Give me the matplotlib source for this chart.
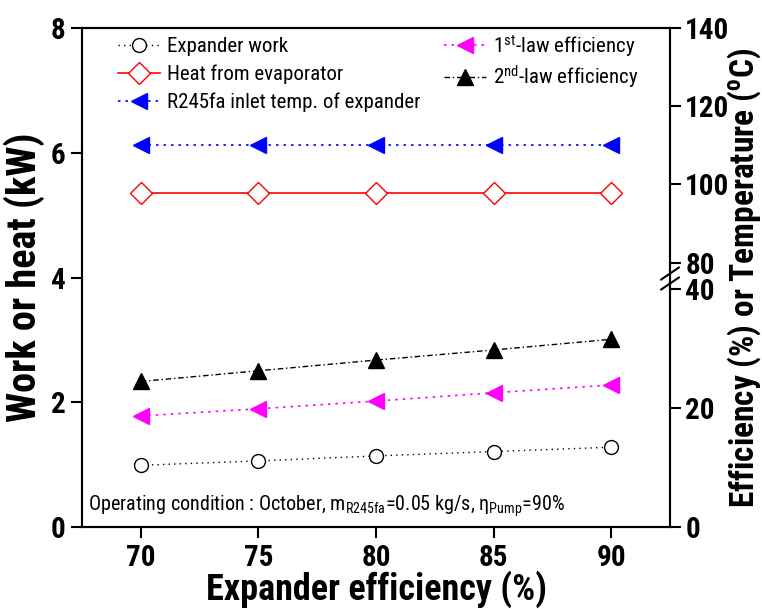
import matplotlib
matplotlib.use("Agg")
import matplotlib.pyplot as plt
from matplotlib import font_manager as fm
import numpy as np

# pick a narrow Arial-like family if available
_avail = {}
for f in fm.fontManager.ttflist:
    _avail.setdefault(f.name, set()).add(f.weight)
FONT = 'Liberation Sans'
for cand in ['Liberation Sans Narrow', 'Arial Narrow', 'Roboto Condensed', 'PT Sans Narrow',
             'Open Sans Condensed', 'Archivo Narrow', 'Barlow Semi Condensed']:
    if cand in _avail:
        FONT = cand
        break

plt.rcParams['font.family'] = [FONT, 'Liberation Sans', 'DejaVu Sans']
plt.rcParams['mathtext.fontset'] = 'custom'
plt.rcParams['mathtext.rm'] = FONT
plt.rcParams['mathtext.it'] = FONT
plt.rcParams['mathtext.bf'] = FONT + ':bold'

# Data
exp_eff = [70, 75, 80, 85, 90]
expander_work = [0.99, 1.06, 1.14, 1.21, 1.28]       # kW
heat_evap = [5.36, 5.36, 5.36, 5.36, 5.36]            # kW
inlet_temp = [110, 110, 110, 110, 110]                # degC
eff_1st = [18.7, 19.9, 21.2, 22.6, 23.9]              # %
eff_2nd = [24.5, 26.3, 28.1, 29.8, 31.6]              # %
left_ticks = [0, 2, 4, 6, 8]
right_ticks = [0, 20, 40, 80, 100, 120, 140]
x_ticks = [70, 75, 80, 85, 90]

# broken right-axis scale mapping (to left kW units)
K1 = 3.81 / 40.0
Y80 = 4.24
K2 = (8.0 - Y80) / 60.0

def fwd(t):
    t = np.asarray(t, dtype=float)
    return np.where(t <= 40, t * K1,
                    np.where(t <= 80, 40 * K1 + (t - 40) * (Y80 - 40 * K1) / 40.0,
                             Y80 + (t - 80) * K2))

def inv(y):
    y = np.asarray(y, dtype=float)
    y40 = 40 * K1
    return np.where(y <= y40, y / K1,
                    np.where(y <= Y80, 40 + (y - y40) * 40.0 / (Y80 - y40),
                             80 + (y - Y80) / K2))

fig = plt.figure(figsize=(7.62, 6.09), dpi=100)
ax = fig.add_axes([0.1076, 0.1346, 0.7717, 0.8194])
ax2 = ax.twinx()
ax2.set_yscale('function', functions=(fwd, inv))

l1, = ax.plot(exp_eff, expander_work, linestyle=(0, (1, 3)), color='black', lw=1.0,
              marker='o', markersize=10, markerfacecolor='white', markeredgecolor='black',
              markeredgewidth=1.0, label='Expander work')
l2, = ax.plot(exp_eff, heat_evap, linestyle='-', color='red', lw=1.2,
              marker='D', markersize=11, markerfacecolor='white', markeredgecolor='red',
              markeredgewidth=1.0, label='Heat from evaporator')
l3, = ax2.plot(exp_eff, inlet_temp, linestyle=(0, (1.5, 3)), color='blue', lw=1.2,
               marker='<', markersize=12, markerfacecolor='blue', markeredgecolor='blue',
               label='R245fa inlet temp. of expander')
l4, = ax2.plot(exp_eff, eff_1st, linestyle=(0, (1.5, 3)), color='magenta', lw=1.2,
               marker='<', markersize=12, markerfacecolor='magenta', markeredgecolor='magenta',
               label='1$^{st}$-law efficiency')
l5, = ax2.plot(exp_eff, eff_2nd, linestyle=(0, (4, 2, 1, 2)), color='black', lw=1.0,
               marker='^', markersize=12, markerfacecolor='black', markeredgecolor='black',
               label='2$^{nd}$-law efficiency')

ax.set_xlim(67.5, 92.5)
ax.set_ylim(0, 8)
ax2.set_ylim(0, 140)
ax.set_xticks(x_ticks)
ax.set_yticks(left_ticks)
ax2.set_yticks(right_ticks)
ax2.set_yticklabels([str(t) for t in right_ticks])
ax2.yaxis.set_minor_locator(matplotlib.ticker.NullLocator())

for a in (ax, ax2):
    for s in a.spines.values():
        s.set_linewidth(1.5)
ax.tick_params(axis='both', direction='out', length=8, width=1.5, labelsize=21, pad=4)
ax2.tick_params(axis='y', direction='out', length=8, width=1.5, labelsize=21, pad=3)
for lab in ax.get_xticklabels() + ax.get_yticklabels() + ax2.get_yticklabels():
    lab.set_fontweight('bold')

ax.set_xlabel('Expander efficiency (%)', fontsize=26, fontweight='bold', labelpad=-1)
ax.set_ylabel('Work or heat (kW)', fontsize=29, fontweight='bold', labelpad=4)
ax2.set_ylabel('Efficiency (%) or Temperature ($\\mathbf{^o}$C)', fontsize=24,
               fontweight='bold', labelpad=-3)

# axis break marks on right spine
for dy in (-0.010, 0.010):
    ax2.plot([0.985, 1.015], [0.498 + dy - 0.012, 0.498 + dy + 0.012],
             transform=ax2.transAxes, color='black', lw=1.5, clip_on=False)

common = dict(frameon=False, fontsize=15, handlelength=2.0, handletextpad=0.35,
              borderpad=0.0, borderaxespad=0.0, loc='upper left')
leg1 = ax2.legend(handles=[l1, l2, l3], bbox_to_anchor=(0.061, 0.982), labelspacing=0.42, **common)
ax2.add_artist(leg1)
leg2 = ax2.legend(handles=[l4, l5], bbox_to_anchor=(0.616, 0.99), labelspacing=0.22, **common)

ax.text(0.01, 0.042, 'Operating condition : October, m$_{R245fa}$=0.05 kg/s, $\\eta_{Pump}$=90%',
        transform=ax.transAxes, fontsize=14.5, ha='left', va='center')

fig.savefig('out.png', dpi=100)
